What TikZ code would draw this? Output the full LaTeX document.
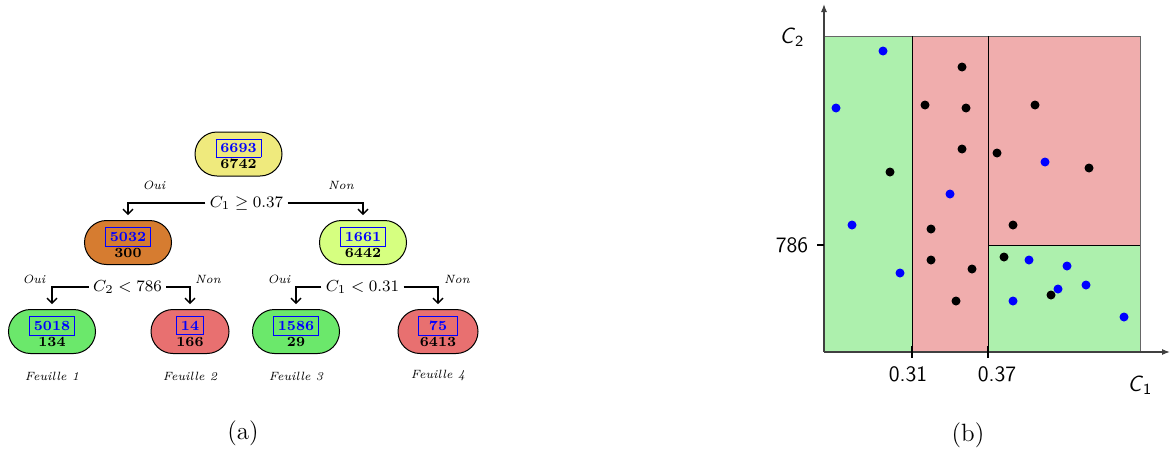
\documentclass[tikz,border=0pt]{standalone}
\usepackage{amsmath,amssymb}
\usepackage{xcolor}
\usepackage{tikz}
\usetikzlibrary{positioning,arrows.meta,calc}
\definecolor{rootyel}{HTML}{EFEA7D}
\definecolor{orng}{HTML}{D67C30}
\definecolor{lime}{HTML}{D6FF80}
\definecolor{leafgreen}{HTML}{6BE86B}
\definecolor{leafred}{HTML}{E87070}
\definecolor{zonegreen}{HTML}{ADF0AD}
\definecolor{zonered}{HTML}{F0ADAD}
\setlength{\fboxsep}{2pt}
\newcommand{\cnt}[2]{{\color{blue}\fbox{\textbf{#1}}}\\\textbf{#2}}

\begin{document}
\begin{tikzpicture}[
  x=0.5pt,y=-0.5pt,
  font=\scriptsize,
  nd/.style={draw,line width=0.5pt,rounded corners=11pt,minimum width=43.5pt,minimum height=22pt,inner sep=0pt,align=center},
  split/.style={font=\footnotesize,inner sep=2pt},
  yn/.style={font=\fontsize{6}{7}\selectfont\itshape},
  arr/.style={-{Straight Barb[length=2.5pt,width=5pt]},line width=0.7pt,shorten >=2.5pt},
  lbl/.style={font=\sffamily\fontsize{11}{13}\selectfont},
  capt/.style={font=\fontsize{12.5}{15}\selectfont}
]
\useasboundingbox (0,0) rectangle (1171,456);
% (a) tree
\node[nd,fill=rootyel] (rt) at (238.5,154) {\cnt{6693}{6742}};
\node[nd,fill=orng] (ga) at (128,242.5) {\cnt{5032}{300}};
\node[nd,fill=lime] (dr) at (363,242.5) {\cnt{1661}{6442}};
\node[nd,fill=leafgreen] (f1) at (52,331.5) {\cnt{5018}{134}};
\node[nd,fill=leafred,minimum width=39pt] (f2) at (190,331.5) {\cnt{14}{166}};
\node[nd,fill=leafgreen] (f3) at (296,331.5) {\cnt{1586}{29}};
\node[nd,fill=leafred,minimum width=40pt] (f4) at (438,331.5) {\cnt{~75~}{6413}};
\node[split] (sa) at (246.5,203) {$C_1 \geq 0.37$};
\node[split] (sb) at (127.5,287) {$C_2 < 786$};
\node[split] (sc) at (362.5,287) {$C_1 < 0.31$};
\node[yn] (oa) at (154,185) {Oui};
\node[yn] (na) at (341,185) {Non};
\node[yn] (ob) at (34,279) {Oui};
\node[yn] (nb) at (208,279) {Non};
\node[yn] (oc) at (279,279) {Oui};
\node[yn] (nc) at (457,279) {Non};
\draw[arr] (sa.west) -| (ga.north);
\draw[arr] (sa.east) -| (dr.north);
\draw[arr] (sb.west) -| (f1.north);
\draw[arr] (sb.east) -| (f2.north);
\draw[arr] (sc.west) -| (f3.north);
\draw[arr] (sc.east) -| (f4.north);
\node[yn] (e1) at (52,376) {Feuille 1};
\node[yn] (e2) at (190,376) {Feuille 2};
\node[yn] (e3) at (296,376) {Feuille 3};
\node[yn] (e4) at (438,375) {Feuille 4};
\node[capt] (ca) at (243,433) {(a)};
% (b) partition of the plane
\fill[zonegreen] (824,36) rectangle (912,352);
\fill[zonered] (912,36) rectangle (988,352);
\fill[zonered] (988,36) rectangle (1140,245);
\fill[zonegreen] (988,245) rectangle (1140,352);
\draw[black!60,line width=0.5pt] (824,36) rectangle (1140,352);
\draw[line width=0.5pt] (912,36) -- (912,352) (988,36) -- (988,352) (988,245) -- (1140,245);
\coordinate (O) at (824,352);
\coordinate (xe) at (1170,352);
\coordinate (ye) at (824,4);
\draw[black!75,line width=0.6pt,-{Latex[length=4pt,width=3pt]}] (O) -- (xe);
\draw[black!75,line width=0.6pt,-{Latex[length=4pt,width=3pt]}] (O) -- (ye);
\draw[line width=0.6pt] (912,346) -- (912,358) (988,346) -- (988,358) (817,245) -- (824,245);
\node[lbl] (t786) at (792,245) {786};
\node[lbl] (t31) at (908,374) {0.31};
\node[lbl] (t37) at (997,374) {0.37};
\node[lbl] (cy) at (792,37) {\textit{C}\textsubscript{2}};
\node[lbl] (cx) at (1140,385) {\textit{C}\textsubscript{1}};
\foreach \p in {(883,51),(836,108),(852,225),(900,273),(950,194),(1045,162),
                (1029,260),(1067,266),(1086,285),(1058,289),(1013,301),(1124,317)}
  \fill[blue] \p circle (2.25pt);
\foreach \p in {(962,67),(925,105),(966,108),(1035,105),(962,149),(997,153),
                (1089,168),(890,172),(931,229),(1013,225),(931,260),(972,269),
                (1004,257),(1051,295),(956,301)}
  \fill[black] \p circle (2.25pt);
\node[capt] (cb) at (968,435) {(b)};
\end{tikzpicture}
\end{document}
